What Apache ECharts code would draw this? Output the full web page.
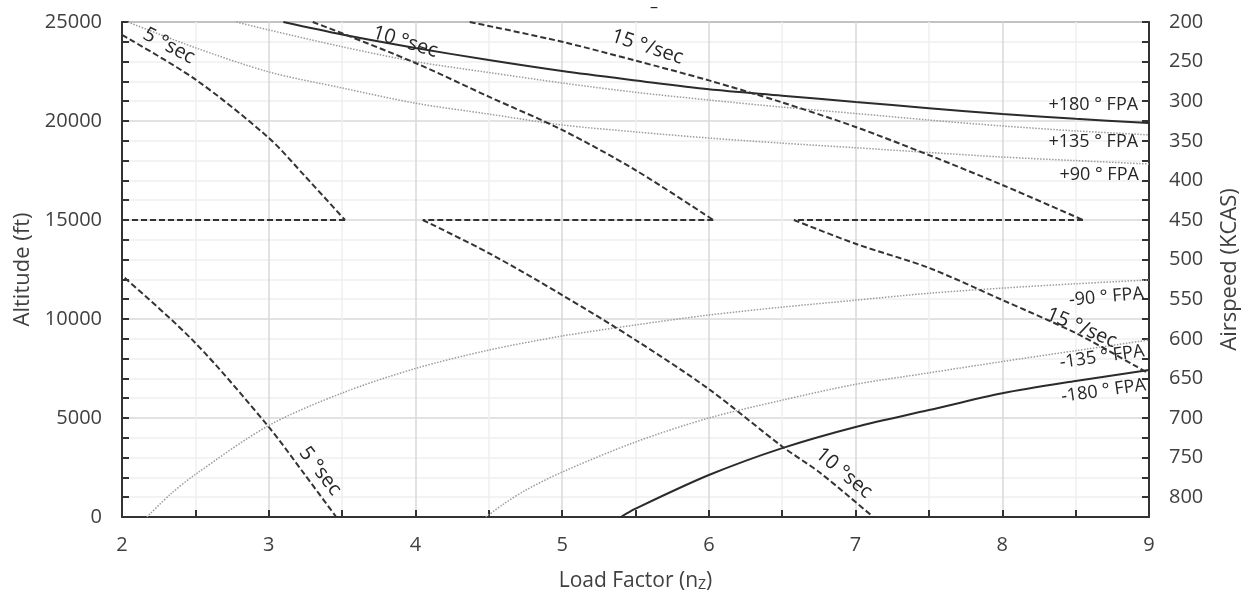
<!DOCTYPE html>
<html>
<head>
<meta charset="utf-8">
<script src="https://cdn.jsdelivr.net/npm/echarts@6.0.0/dist/echarts.min.js"></script>
<style>
  html, body { margin: 0; padding: 0; background: #fff; }
  #chart { width: 1247px; height: 593px; }
</style>
</head>
<body>
<div id="chart"></div>
<script>
// flight path angle curves [load factor, altitude ft]
const fpaPos180 = [[3.1,25000],[3.5,24370],[4,23690],[4.5,23080],[5,22525],[5.5,22050],[6,21600],[6.5,21280],[7,20960],[7.5,20650],[8,20350],[8.5,20110],[9,19900]];
const fpaPos135 = [[2.78,25000],[3,24600],[3.5,23750],[4,23000],[4.5,22450],[5,21920],[5.5,21450],[6,21060],[6.5,20700],[7,20380],[7.5,20050],[8,19750],[8.5,19500],[9,19300]];
const fpaPos90 = [[2.04,25000],[2.5,23700],[3,22480],[3.5,21670],[4,20900],[4.5,20350],[5,19800],[5.5,19450],[6,19140],[6.5,18880],[7,18650],[7.5,18410],[8,18180],[8.5,18000],[9,17830]];
const fpaNeg90 = [[2.17,0],[2.33,1150],[2.5,2150],[3,4620],[3.5,6260],[4,7500],[4.5,8430],[5,9140],[5.5,9700],[6,10200],[6.5,10600],[7,10950],[7.5,11300],[8,11560],[8.5,11780],[9,11970]];
const fpaNeg135 = [[4.48,0],[4.6,650],[4.75,1350],[5,2270],[5.5,3790],[6,5000],[6.5,5900],[7,6700],[7.5,7280],[8,7850],[8.5,8400],[9,8940]];
const fpaNeg180 = [[5.4,0],[5.5,420],[6,2120],[6.5,3480],[7,4550],[7.5,5400],[8,6250],[8.5,6870],[9,7420]];

// constant turn rate lines: upper branch down to 15000 ft, lower branch from 15000 ft
const turn5Upper = [[2,24350],[2.5,22100],[3,19150],[3.25,17190],[3.52,15000]];
const turn5Lower = [[1.55,15000],[2,12200],[2.5,8790],[3,4550],[3.25,2100],[3.46,0]];
const turn10Upper = [[3.3,25000],[3.5,24430],[4,22930],[4.5,21230],[5,19550],[5.5,17520],[6.03,15000]];
const turn10Lower = [[4.05,15000],[4.5,13330],[5,11210],[5.5,8940],[6,6460],[6.5,3560],[6.76,2220],[7.12,0]];
const turn15Upper = [[4.37,25000],[5,24000],[5.5,23050],[6,22050],[6.49,20960],[7,19700],[7.5,18280],[8,16770],[8.55,15000]];
const turn15Lower = [[6.58,15000],[7,13800],[7.5,12580],[8,10960],[8.5,9290],[8.92,7580],[9,7230]];

// curve labels: text, load factor, altitude, rotation (deg), font size
const curveLabels = [
  ['5 °sec', 2.32, 23790, -28, 20],
  ['10 °sec', 3.93, 23990, -17, 20],
  ['15 °/sec', 5.58, 23740, -18, 20],
  ['+180 ° FPA', 8.62, 20810, 0, 18],
  ['+135 ° FPA', 8.62, 18940, 0, 18],
  ['+90 ° FPA', 8.66, 17270, 0, 18],
  ['-90 ° FPA', 8.71, 11110, 5, 18],
  ['15 °/sec', 8.54, 9550, -23, 20],
  ['-135 ° FPA', 8.68, 8080, 8, 18],
  ['-180 ° FPA', 8.69, 6360, 8, 18],
  ['5 °sec', 3.35, 2320, -52, 20],
  ['10 °sec', 6.92, 2220, -40, 20]
];

const FONT = '"Open Sans", "Noto Sans", sans-serif';
const chart = echarts.init(document.getElementById('chart'));

const solid = { color: '#2b2b2b', width: 2, type: 'solid' };
const dotted = { color: '#9c9c9c', width: 1.5, type: [1.5, 1.5] };
const dashed = { color: '#333', width: 2, type: [6, 3] };

function line(name, data, style, smooth) {
  return {
    name: name,
    type: 'line',
    data: data,
    showSymbol: false,
    symbol: 'none',
    smooth: smooth,
    lineStyle: style,
    clip: true,
    z: 3
  };
}

// jump at 15000 ft between the two branches of a turn rate line
function jump(upper, lower) {
  return [upper[upper.length - 1], lower[0]];
}

const option = {
  animation: false,
  textStyle: { fontFamily: FONT },
  grid: {
    left: 122, right: 98, top: 22, bottom: 76,
    outerBoundsMode: 'none',
    containLabel: false,
    show: true, borderColor: '#555', borderWidth: 1.5
  },
  xAxis: {
    type: 'value',
    min: 2, max: 9, interval: 1,
    name: '{a|Load Factor (n}{s|Z}{a|)}',
    nameLocation: 'middle',
    nameGap: 45,
    nameTextStyle: {
      rich: {
        a: { fontSize: 21, color: '#404040', fontFamily: FONT, verticalAlign: 'bottom', lineHeight: 30 },
        s: { fontSize: 14, color: '#404040', fontFamily: FONT, verticalAlign: 'bottom', lineHeight: 12 }
      }
    },
    axisLine: { show: true, lineStyle: { color: '#333', width: 2 } },
    axisTick: { show: true, inside: true, length: 7, lineStyle: { color: '#333', width: 2 } },
    minorTick: { show: true, splitNumber: 2, length: 7, lineStyle: { color: '#333', width: 2 } },
    axisLabel: { fontSize: 20, color: '#404040', margin: 18, fontFamily: FONT },
    splitLine: { show: true, lineStyle: { color: '#d9d9d9', width: 1.5 } },
    minorSplitLine: { show: true, lineStyle: { color: '#efefef', width: 1.5 } }
  },
  yAxis: [
    {
      type: 'value',
      min: 0, max: 25000, interval: 5000,
      name: 'Altitude (ft)',
      nameLocation: 'middle',
      nameRotate: 90,
      nameGap: 88,
      nameTextStyle: { fontSize: 22, color: '#404040', fontFamily: FONT },
      axisLine: { show: true, lineStyle: { color: '#333', width: 2 } },
      axisTick: { show: true, inside: true, length: 7, lineStyle: { color: '#333', width: 2 } },
      minorTick: { show: true, splitNumber: 5, length: 7, lineStyle: { color: '#333', width: 2 } },
      axisLabel: {
        fontSize: 20, color: '#404040', margin: 20, fontFamily: FONT,
        formatter: function (v) { return String(v); }
      },
      splitLine: { show: true, lineStyle: { color: '#d9d9d9', width: 1.5 } },
      minorSplitLine: { show: true, lineStyle: { color: '#efefef', width: 1.5 } }
    },
    {
      type: 'value',
      position: 'right',
      inverse: true,
      min: 200, max: 825, interval: 25,
      name: 'Airspeed (KCAS)',
      nameLocation: 'middle',
      nameRotate: 90,
      nameGap: 70,
      nameTextStyle: { fontSize: 22, color: '#404040', fontFamily: FONT },
      axisLine: { show: true, lineStyle: { color: '#333', width: 2 } },
      axisTick: { show: true, inside: true, length: 7, lineStyle: { color: '#333', width: 2 } },
      axisLabel: {
        fontSize: 20, color: '#404040', margin: 20, fontFamily: FONT,
        formatter: function (v) { return (v % 50 === 0 && v <= 800) ? String(v) : ''; }
      },
      splitLine: { show: false }
    }
  ],
  series: [
    line('+180 FPA', fpaPos180, solid, 0.3),
    line('+135 FPA', fpaPos135, dotted, 0.3),
    line('+90 FPA', fpaPos90, dotted, 0.3),
    line('-90 FPA', fpaNeg90, dotted, 0.3),
    line('-135 FPA', fpaNeg135, dotted, 0.3),
    line('-180 FPA', fpaNeg180, solid, 0.3),
    line('5 deg/sec upper', turn5Upper, dashed, 0.3),
    line('5 deg/sec jump', jump(turn5Upper, turn5Lower), dashed, false),
    line('5 deg/sec lower', turn5Lower, dashed, 0.3),
    line('10 deg/sec upper', turn10Upper, dashed, 0.3),
    line('10 deg/sec jump', jump(turn10Upper, turn10Lower), dashed, false),
    line('10 deg/sec lower', turn10Lower, dashed, 0.3),
    line('15 deg/sec upper', turn15Upper, dashed, 0.3),
    line('15 deg/sec jump', jump(turn15Upper, turn15Lower), dashed, false),
    line('15 deg/sec lower', turn15Lower, dashed, 0.3)
  ]
};

chart.setOption(option);

// place the curve labels through the axes
const graphics = curveLabels.map(function (l) {
  const p = chart.convertToPixel({ xAxisIndex: 0, yAxisIndex: 0 }, [l[1], l[2]]);
  return {
    type: 'text',
    x: p[0], y: p[1],
    rotation: l[3] * Math.PI / 180,
    z: 10,
    style: {
      text: l[0], fill: '#262626',
      font: l[4] + 'px ' + FONT,
      align: 'center', verticalAlign: 'middle'
    }
  };
});
graphics.push({
  type: 'text', left: 650, top: -1, z: 10,
  style: { text: '–', fill: '#262626', font: '16px ' + FONT }
});
chart.setOption({ graphic: graphics });

window.onresize = function () {
  chart.resize();
};
</script>
</body>
</html>
